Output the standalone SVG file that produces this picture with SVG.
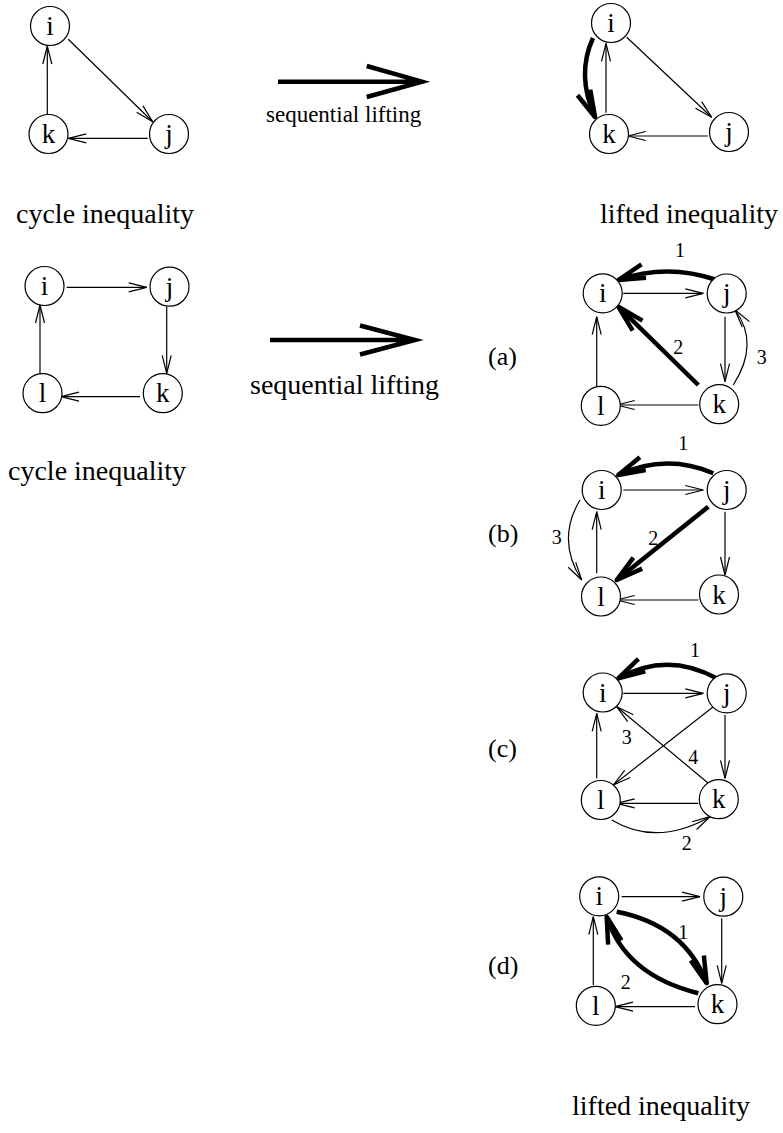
<svg xmlns="http://www.w3.org/2000/svg" width="783" height="1133" viewBox="0 0 783 1133" font-family="'Liberation Serif', 'DejaVu Serif', serif">
<style>
.n circle{fill:#fff;stroke:#000;stroke-width:1.2}
.n text{font-family:'Liberation Serif','DejaVu Serif',serif;font-size:27px;text-anchor:middle;fill:#000}
.e{fill:none;stroke:#000;stroke-width:1.2}
.t{fill:none;stroke:#000;stroke-width:4.5}
.big{fill:none;stroke:#000;stroke-width:4.5}
.lab{font-family:'Liberation Serif','DejaVu Serif',serif;font-size:20px;text-anchor:middle;fill:#000}
.cap{font-family:'Liberation Serif','DejaVu Serif',serif;font-size:28px;fill:#000}
</style>
<defs>
<marker id="ah" markerUnits="userSpaceOnUse" viewBox="-20 -6 22 12" refX="0" refY="0" markerWidth="22" markerHeight="12" orient="auto" overflow="visible">
<path d="M-18,-4.5 L0,0 L-18,4.5" fill="none" stroke="#000" stroke-width="1.2"/>
</marker>
<marker id="ahT" markerUnits="userSpaceOnUse" viewBox="-30 -10 32 20" refX="0" refY="0" markerWidth="32" markerHeight="20" orient="auto" overflow="visible">
<path d="M-27,-7 L0,0 L-27,7" fill="none" stroke="#000" stroke-width="4.5" stroke-linejoin="round"/>
</marker>
</defs>

<g id="connectors">
<path class="e" d="M68.3,39.3 L152.7,121.7" marker-end="url(#ah)"/>
<path class="e" d="M147.7,138.3 L68.3,138.3" marker-end="url(#ah)"/>
<path class="e" d="M47.3,114.3 L47.3,46" marker-end="url(#ah)"/>
<path class="big" d="M278,81.7 L422,81.7 M366.7,66 L422,81.7 L366.7,97"/>
<path class="e" d="M626.7,37.3 L711.7,117.3" marker-end="url(#ah)"/>
<path class="e" d="M707.7,136 L627.7,136" marker-end="url(#ah)"/>
<path class="e" d="M606,112.7 L606,43.3" marker-end="url(#ah)"/>
<path class="t" d="M593,38 Q576,75 595,117" marker-end="url(#ahT)"/>
<path class="e" d="M66.7,287.3 L146.7,287.3" marker-end="url(#ah)"/>
<path class="e" d="M166.7,306.7 L166.7,373.3" marker-end="url(#ah)"/>
<path class="e" d="M140,396.7 L61,396.7" marker-end="url(#ah)"/>
<path class="e" d="M40,373.3 L40,305" marker-end="url(#ah)"/>
<path class="big" d="M270,340 L415,340 M360,325.5 L415,340 L360,354.5"/>
<path class="e" d="M623.3,293.3 L703.3,293.3" marker-end="url(#ah)"/>
<path class="e" d="M725,316.7 L725,381.7" marker-end="url(#ah)"/>
<path class="e" d="M698.3,405 L616.7,405" marker-end="url(#ah)"/>
<path class="e" d="M596.7,386 L596.7,316.7" marker-end="url(#ah)"/>
<path class="t" d="M716.7,280 Q667,263 618.3,280" marker-end="url(#ahT)"/>
<path class="t" d="M698.3,385 L618.3,306.7" marker-end="url(#ahT)"/>
<path class="e" d="M733.3,385 Q760,343 735,310" marker-end="url(#ah)"/>
<path class="e" d="M623.3,490 L703.3,490" marker-end="url(#ah)"/>
<path class="e" d="M725,511.7 L725,575" marker-end="url(#ah)"/>
<path class="e" d="M698.3,600 L616.7,600" marker-end="url(#ah)"/>
<path class="e" d="M596.7,573.3 L596.7,511.7" marker-end="url(#ah)"/>
<path class="t" d="M713.3,473.3 Q666,453 618.3,475" marker-end="url(#ahT)"/>
<path class="t" d="M708.3,506.7 L616.7,580" marker-end="url(#ahT)"/>
<path class="e" d="M580,500 Q556,540 581.7,580" marker-end="url(#ah)"/>
<path class="e" d="M623.3,693.3 L703.3,693.3" marker-end="url(#ah)"/>
<path class="e" d="M725,715 L725,778.3" marker-end="url(#ah)"/>
<path class="e" d="M698.3,803.3 L616.7,803.3" marker-end="url(#ah)"/>
<path class="e" d="M596.7,778.3 L596.7,713.3" marker-end="url(#ah)"/>
<path class="t" d="M716.7,678.3 Q667,651 618.3,678.3" marker-end="url(#ahT)"/>
<path class="e" d="M713.3,706.7 L613.3,785" marker-end="url(#ah)"/>
<path class="e" d="M708.3,783.3 L616.7,706.7" marker-end="url(#ah)"/>
<path class="e" d="M611.7,820 Q657,847 710,816.7" marker-end="url(#ah)"/>
<path class="e" d="M621.7,896.7 L700,896.7" marker-end="url(#ah)"/>
<path class="e" d="M721.7,918.3 L721.7,983.3" marker-end="url(#ah)"/>
<path class="e" d="M695,1006.7 L615,1006.7" marker-end="url(#ah)"/>
<path class="e" d="M593.3,985 L593.3,916.7" marker-end="url(#ah)"/>
<path class="t" d="M616.7,911.7 Q685,925 706.7,983.3" marker-end="url(#ahT)"/>
<path class="t" d="M698.3,993.3 Q625,975 606.7,916.7" marker-end="url(#ahT)"/>
</g>

<g id="t1-i" class="n"><circle cx="50" cy="26" r="19.5"/><text x="50" y="35">i</text></g>
<g id="t1-k" class="n"><circle cx="48.5" cy="134" r="19.5"/><text x="48.5" y="143">k</text></g>
<g id="t1-j" class="n"><circle cx="169" cy="134" r="19.5"/><text x="169" y="143">j</text></g>
<g id="t2-i" class="n"><circle cx="611" cy="23" r="19.5"/><text x="611" y="32">i</text></g>
<g id="t2-k" class="n"><circle cx="609" cy="134" r="19.5"/><text x="609" y="143">k</text></g>
<g id="t2-j" class="n"><circle cx="729" cy="132" r="19.5"/><text x="729" y="141">j</text></g>
<g id="s-i" class="n"><circle cx="44.5" cy="286" r="19.5"/><text x="44.5" y="295">i</text></g>
<g id="s-j" class="n"><circle cx="169.5" cy="286.7" r="19.5"/><text x="169.5" y="295.7">j</text></g>
<g id="s-l" class="n"><circle cx="42.5" cy="393.2" r="19.5"/><text x="42.5" y="402.2">l</text></g>
<g id="s-k" class="n"><circle cx="162.8" cy="393.2" r="19.5"/><text x="162.8" y="402.2">k</text></g>
<g id="a-i" class="n"><circle cx="602.7" cy="293.3" r="19.5"/><text x="602.7" y="302">i</text></g>
<g id="a-j" class="n"><circle cx="726.7" cy="293.5" r="19.5"/><text x="726.7" y="302">j</text></g>
<g id="a-l" class="n"><circle cx="600.8" cy="405.8" r="19.5"/><text x="600.8" y="414.5">l</text></g>
<g id="a-k" class="n"><circle cx="719.2" cy="404.2" r="19.5"/><text x="719.2" y="413">k</text></g>
<g id="b-i" class="n"><circle cx="601.7" cy="490" r="19.5"/><text x="601.7" y="499">i</text></g>
<g id="b-j" class="n"><circle cx="726.7" cy="490" r="19.5"/><text x="726.7" y="499">j</text></g>
<g id="b-l" class="n"><circle cx="601" cy="596.5" r="19.5"/><text x="601" y="605.5">l</text></g>
<g id="b-k" class="n"><circle cx="719" cy="594.5" r="19.5"/><text x="719" y="603.5">k</text></g>
<g id="c-i" class="n"><circle cx="602.7" cy="692.5" r="19.5"/><text x="602.7" y="701.5">i</text></g>
<g id="c-j" class="n"><circle cx="726.7" cy="693.3" r="19.5"/><text x="726.7" y="702.3">j</text></g>
<g id="c-l" class="n"><circle cx="600.8" cy="800" r="19.5"/><text x="600.8" y="809">l</text></g>
<g id="c-k" class="n"><circle cx="718.8" cy="799.2" r="19.5"/><text x="718.8" y="808.2">k</text></g>
<g id="d-i" class="n"><circle cx="599.2" cy="896.3" r="19.5"/><text x="599.2" y="905.3">i</text></g>
<g id="d-j" class="n"><circle cx="723.3" cy="896.7" r="19.5"/><text x="723.3" y="905.7">j</text></g>
<g id="d-l" class="n"><circle cx="595.8" cy="1005.8" r="19.5"/><text x="595.8" y="1014.8">l</text></g>
<g id="d-k" class="n"><circle cx="717.5" cy="1004.2" r="19.5"/><text x="717.5" y="1013.2">k</text></g>

<g id="labels">
<text class="lab" x="680" y="257">1</text>
<text class="lab" x="678.3" y="353.5">2</text>
<text class="lab" x="761.7" y="363.5">3</text>
<text class="lab" x="683.3" y="450">1</text>
<text class="lab" x="653.3" y="545">2</text>
<text class="lab" x="556.7" y="543.5">3</text>
<text class="lab" x="695" y="657">1</text>
<text class="lab" x="626.7" y="743.5">3</text>
<text class="lab" x="693.3" y="763.5">4</text>
<text class="lab" x="686.7" y="850">2</text>
<text class="lab" x="683.3" y="938.5">1</text>
<text class="lab" x="625.7" y="988.5">2</text>
</g>

<g id="captions">
<text class="cap" x="16" y="223">cycle inequality</text>
<text class="cap" x="600" y="223">lifted inequality</text>
<text class="cap" x="8" y="480">cycle inequality</text>
<text class="cap" x="572" y="1115">lifted inequality</text>
<text class="cap" x="266" y="122" style="font-size:23px">sequential lifting</text>
<text class="cap" x="250" y="394">sequential lifting</text>
<text class="cap" x="488" y="365" style="font-size:26px">(a)</text>
<text class="cap" x="488" y="542" style="font-size:26px">(b)</text>
<text class="cap" x="488" y="757" style="font-size:26px">(c)</text>
<text class="cap" x="488" y="974" style="font-size:26px">(d)</text>
</g>
</svg>
